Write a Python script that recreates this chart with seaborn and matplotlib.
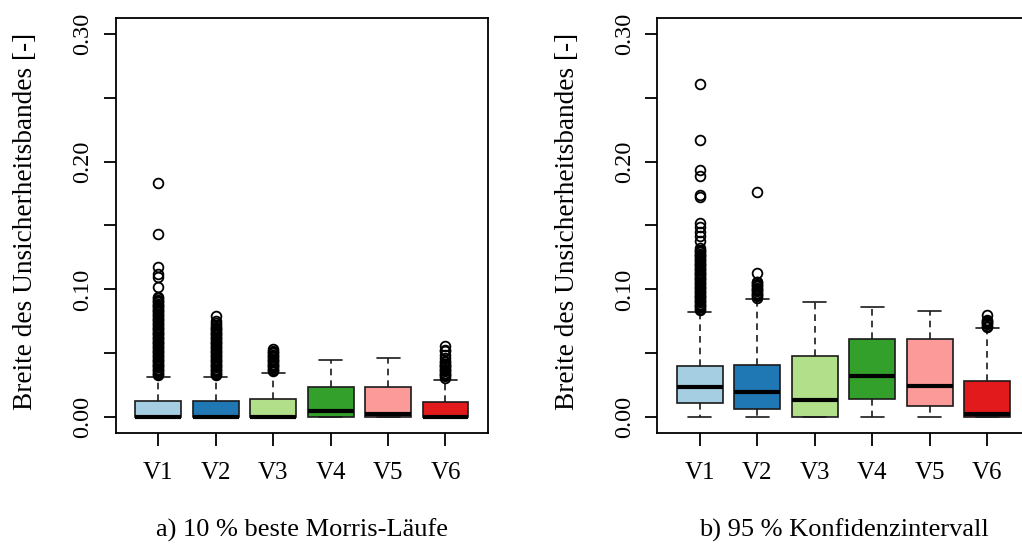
import numpy as np
import pandas as pd
import matplotlib
matplotlib.use("Agg")
import matplotlib.pyplot as plt
import seaborn as sns

categories = ["V1", "V2", "V3", "V4", "V5", "V6"]
tick_values = [0.00, 0.05, 0.10, 0.15, 0.20, 0.25, 0.30]
tick_labels = ["0.00", "", "0.10", "", "0.20", "", "0.30"]
ylabel = "Breite des Unsicherheitsbandes [-]"
caption_a = "a) 10 % beste Morris-Läufe"
caption_b = "b) 95 % Konfidenzintervall"

# ---- panel a: box statistics ----
a_q1 = [0.0, 0.0, 0.0, 0.0, 0.0, 0.0]
a_med = [0.0005, 0.0, 0.0, 0.0052, 0.0027, 0.0]
a_q3 = [0.0131, 0.0131, 0.0142, 0.0240, 0.0240, 0.0120]
a_wlo = [0.0, 0.0, 0.0, 0.0, 0.0, 0.0]
a_whi = [0.0319, 0.0319, 0.0350, 0.0452, 0.0465, 0.0295]
a_out_v1 = [0.033, 0.034, 0.035, 0.036, 0.037, 0.038, 0.039, 0.040, 0.041, 0.042,
            0.043, 0.044, 0.045, 0.046, 0.047, 0.048, 0.049, 0.050, 0.051, 0.052,
            0.053, 0.054, 0.055, 0.056, 0.057, 0.058, 0.059, 0.060, 0.061, 0.062,
            0.063, 0.064, 0.065, 0.066, 0.067, 0.068, 0.069, 0.070, 0.071, 0.072,
            0.073, 0.074, 0.075, 0.076, 0.077, 0.078, 0.079, 0.080, 0.081, 0.082,
            0.083, 0.084, 0.085, 0.086, 0.087, 0.088, 0.089, 0.090, 0.091, 0.092,
            0.093, 0.094, 0.1018, 0.110, 0.1117, 0.1175, 0.143, 0.183]
a_out_v2 = [0.033, 0.034, 0.035, 0.036, 0.037, 0.038, 0.039, 0.040, 0.041, 0.042,
            0.043, 0.044, 0.045, 0.046, 0.047, 0.048, 0.049, 0.050, 0.051, 0.052,
            0.053, 0.054, 0.055, 0.056, 0.057, 0.058, 0.059, 0.060, 0.061, 0.062,
            0.063, 0.064, 0.065, 0.066, 0.067, 0.068, 0.069, 0.070, 0.071, 0.072,
            0.0734, 0.0752, 0.0796]
a_out_v3 = [0.036, 0.037, 0.038, 0.039, 0.040, 0.041, 0.042, 0.043, 0.044, 0.045,
            0.046, 0.047, 0.048, 0.049, 0.050, 0.051, 0.052, 0.0535]
a_out_v4 = []
a_out_v5 = []
a_out_v6 = [0.031, 0.032, 0.033, 0.034, 0.035, 0.036, 0.037, 0.038, 0.039, 0.040,
            0.041, 0.042, 0.043, 0.044, 0.0465, 0.049, 0.0515, 0.053, 0.0555]
a_out = [a_out_v1, a_out_v2, a_out_v3, a_out_v4, a_out_v5, a_out_v6]

# ---- panel b ----
b_q1 = [0.0110, 0.0065, 0.0, 0.0143, 0.0091, 0.0]
b_med = [0.0235, 0.0200, 0.0135, 0.0326, 0.0248, 0.0025]
b_q3 = [0.0400, 0.0410, 0.0480, 0.0611, 0.0611, 0.0282]
b_wlo = [0.0, 0.0, 0.0, 0.0, 0.0, 0.0]
b_whi = [0.0822, 0.0924, 0.0900, 0.0866, 0.0835, 0.0700]
b_out_v1 = [0.084, 0.085, 0.086, 0.087, 0.088, 0.089, 0.090, 0.091, 0.092, 0.093,
            0.094, 0.095, 0.096, 0.097, 0.098, 0.099, 0.100, 0.101, 0.102, 0.103,
            0.104, 0.105, 0.106, 0.107, 0.108, 0.109, 0.110, 0.111, 0.112, 0.113,
            0.114, 0.115, 0.116, 0.117, 0.118, 0.119, 0.120, 0.121, 0.122, 0.123,
            0.124, 0.125, 0.126, 0.127, 0.128, 0.129, 0.130, 0.131, 0.1323, 0.1375,
            0.1414, 0.1453, 0.1485, 0.1519, 0.1723, 0.174, 0.1884, 0.1937, 0.2166,
            0.261]
b_out_v2 = [0.0935, 0.0945, 0.0955, 0.0965, 0.0975, 0.0985, 0.0995, 0.1005, 0.1015,
            0.1025, 0.1035, 0.1045, 0.1055, 0.106, 0.1128, 0.1759]
b_out_v3 = []
b_out_v4 = []
b_out_v5 = []
b_out_v6 = [0.071, 0.0718, 0.0726, 0.0734, 0.0742, 0.075, 0.0765, 0.080]
b_out = [b_out_v1, b_out_v2, b_out_v3, b_out_v4, b_out_v5, b_out_v6]

colors = sns.color_palette("Paired", 6)


def build(q1, med, q3, wlo, whi, outs):
    """Rebuild a sample whose boxplot statistics equal the values read above."""
    rows = []
    for cat, a, m, b, lo, hi, o in zip(categories, q1, med, q3, wlo, whi, outs):
        r = len(o) + 1
        vals = [lo] + [a] * r + [m] * r + [b] * r + [hi] + list(o)
        rows += [(cat, v) for v in vals]
    return pd.DataFrame(rows, columns=["var", "value"])


sns.set_style("ticks", {"axes.edgecolor": "black", "xtick.color": "black",
                        "ytick.color": "black", "text.color": "black"})
plt.rcParams["font.family"] = ["Liberation Serif", "DejaVu Serif"]

fig = plt.figure(figsize=(10.22, 5.47), dpi=100)
ax_w = 372.3 / 1022
ax_h = 414.4 / 547
ax_b = 1 - 432.7 / 547
axA = fig.add_axes([115.7 / 1022, ax_b, ax_w, ax_h])
axB = fig.add_axes([657.3 / 1022, ax_b, ax_w, ax_h])

for ax, df_args, cap, cx, lx in [
    (axA, (a_q1, a_med, a_q3, a_wlo, a_whi, a_out), caption_a, 115.7 + 372.3 / 2, 26),
    (axB, (b_q1, b_med, b_q3, b_wlo, b_whi, b_out), caption_b, 657.3 + 372.3 / 2, 567),
]:
    df = build(*df_args)
    sns.boxplot(data=df, x="var", y="value", hue="var", palette=colors,
                legend=False, ax=ax, width=0.8, saturation=1, whis=1.5,
                linecolor="#1a1a1a", linewidth=1.2,
                flierprops=dict(marker="o", markerfacecolor="none",
                                markeredgecolor="black", markersize=7,
                                markeredgewidth=1.3),
                medianprops=dict(color="black", linewidth=3),
                whiskerprops=dict(linestyle=(0, (4, 3)), color="#1a1a1a",
                                  linewidth=1.2),
                capprops=dict(color="#1a1a1a", linewidth=1.2))
    ax.set_xlim(-0.74, 5.74)
    ax.set_ylim(-0.012, 0.312)
    ax.set_yticks(tick_values)
    ax.set_yticklabels(tick_labels, rotation=90, va="center")
    ax.set_xticks(range(len(categories)))
    ax.set_xticklabels(categories)
    ax.set_xlabel("")
    ax.set_ylabel("")
    ax.grid(False)
    for s in ax.spines.values():
        s.set_visible(True)
        s.set_linewidth(1.3)
        s.set_color("black")
    ax.tick_params(axis="y", length=9, width=1.3, pad=7, labelsize=17.5,
                   labelcolor="black")
    ax.tick_params(axis="x", length=9, width=1.3, pad=12, labelsize=18,
                   labelcolor="black")
    fig.text(cx / 1022, 1 - 530 / 547, cap, ha="center", va="center",
             fontsize=19, color="black")
    fig.text(lx / 1022, 1 - 221 / 547, ylabel, ha="center", va="center",
             rotation=90, fontsize=19.6, color="black")

fig.savefig("out.png", dpi=100)
